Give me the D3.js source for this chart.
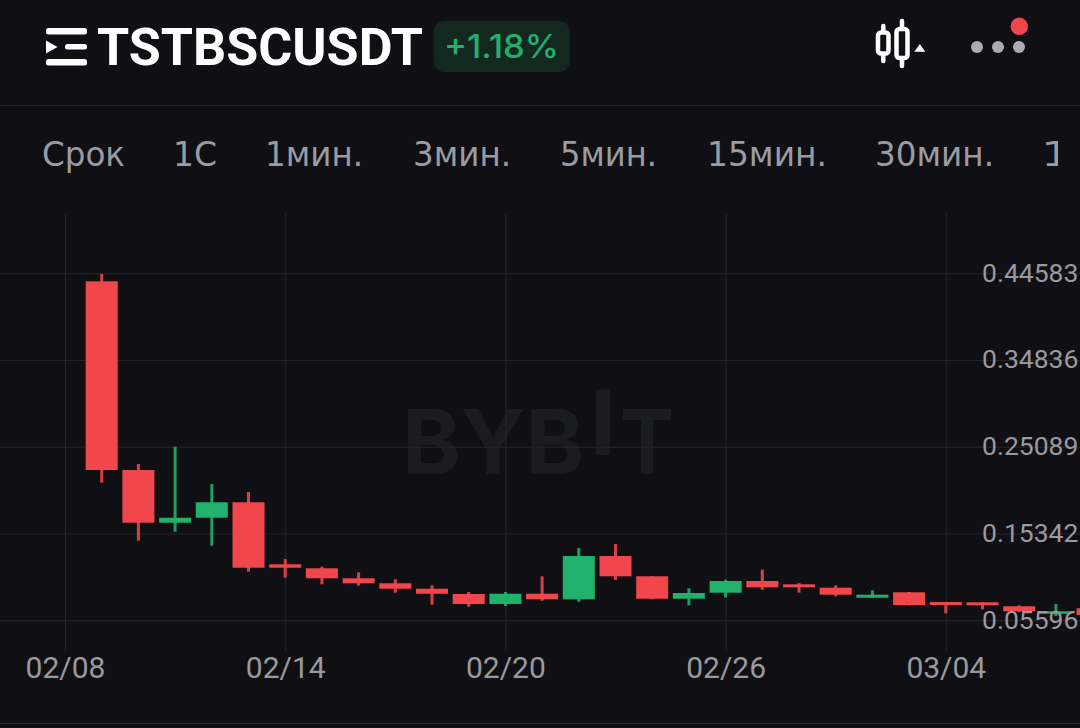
<!DOCTYPE html>
<html>
<head>
<meta charset="utf-8">
<script src="https://cdn.jsdelivr.net/npm/d3@7"></script>
<style>
html, body { margin: 0; padding: 0; background: #101014; }
svg { display: block; }
text { font-family: Inter, "Noto Sans", sans-serif; }
</style>
</head>
<body>
<svg id="chart" width="1080" height="728"></svg>
<script>
var dates = ["02/09","02/10","02/11","02/12","02/13","02/14","02/15","02/16","02/17","02/18","02/19","02/20","02/21","02/22","02/23","02/24","02/25","02/26","02/27","02/28","03/01","03/02","03/03","03/04","03/05","03/06","03/07","03/08"];
var opens = [0.43729,0.22527,0.16605,0.17167,0.18897,0.11931,0.11482,0.10358,0.09796,0.09190,0.08594,0.07470,0.08628,0.07999,0.12864,0.10583,0.08066,0.08740,0.10055,0.09684,0.09302,0.08178,0.08785,0.07695,0.07661,0.07212,0.06381,0.06987];
var closes = [0.22527,0.16605,0.17167,0.18897,0.11549,0.11549,0.10358,0.09796,0.09190,0.08628,0.07470,0.08628,0.07999,0.12864,0.10583,0.08066,0.08706,0.10055,0.09347,0.09347,0.08515,0.08515,0.07358,0.07358,0.07324,0.06650,0.06650,0.06235];
var highs = [0.44549,0.23201,0.25145,0.20954,0.20055,0.12527,0.11662,0.11032,0.10246,0.09572,0.08819,0.08819,0.10583,0.13763,0.14212,0.10583,0.09235,0.10201,0.11324,0.09830,0.09572,0.09010,0.08819,0.07695,0.07695,0.07324,0.07470,0.06987];
var lows = [0.21100,0.14583,0.15594,0.14021,0.11100,0.10426,0.09684,0.09527,0.08740,0.07392,0.07167,0.07246,0.07841,0.07729,0.10167,0.07999,0.07324,0.08223,0.09077,0.08740,0.08336,0.08178,0.07324,0.06426,0.06875,0.06572,0.06122,0.06235];
var priceTicks = [0.44583,0.34836,0.25089,0.15342,0.05596];
var dateTicks = ["02/08","02/14","02/20","02/26","03/04"];
var periods = ["Срок","1С","1мин.","3мин.","5мин.","15мин.","30мин.","1"];
var periodX = [42,173,265,413,560,707,875,1041];
var periodW = [83,44,98,98,97,120,119,30];

var bg = "#101014", red = "#f2464d", green = "#20b26c", grid = "#26272b", grey = "#9a9a9e", mark = "#1b1c20";
var svg = d3.select("#chart");

function parseDate(s) {
    var p = s.split("/");
    // 2025 so february has 28 days
    return new Date(2025, +p[0] - 1, +p[1]);
}

function isUp(i) {
    return closes[i] >= opens[i];
}

svg.append("rect").attr("width", 1080).attr("height", 728).attr("fill", bg);

// header
svg.append("line").attr("x1", 0).attr("x2", 1080).attr("y1", 105.5).attr("y2", 105.5).attr("stroke", grid);
svg.append("line").attr("x1", 0).attr("x2", 1080).attr("y1", 723.5).attr("y2", 723.5).attr("stroke", grid);

var menu = svg.append("g").attr("fill", "#fff");
menu.append("rect").attr("x", 46).attr("y", 28).attr("width", 41).attr("height", 6.5).attr("rx", 2.5);
menu.append("rect").attr("x", 65).attr("y", 44).attr("width", 22).attr("height", 5.5).attr("rx", 2.5);
menu.append("rect").attr("x", 46).attr("y", 59).attr("width", 41).attr("height", 6.5).attr("rx", 2.5);
menu.append("path").attr("d", "M46 40.5 L57.5 47 L46 53.5 Z");

svg.append("text").attr("x", 97).attr("y", 65).attr("fill", "#fff").attr("font-size", 52).attr("font-weight", 700)
    .style("font-family", "Roboto")
    .attr("textLength", 326).attr("lengthAdjust", "spacingAndGlyphs").text("TSTBSCUSDT");

svg.append("rect").attr("x", 433.5).attr("y", 21).attr("width", 136.5).attr("height", 51).attr("rx", 11).attr("fill", "#13281f");
svg.append("text").attr("x", 444).attr("y", 58).attr("fill", "#24ae6c").attr("font-size", 32).attr("font-weight", 500)
    .attr("textLength", 115).attr("lengthAdjust", "spacingAndGlyphs").text("+1.18%");

// candle icon, wicks stop at the body
var icon = svg.append("g").attr("fill", "none").attr("stroke", "#fff").attr("stroke-linecap", "round").attr("stroke-width", 4.5);
icon.append("rect").attr("x", 878).attr("y", 32.5).attr("width", 10.5).attr("height", 21).attr("rx", 3);
icon.append("path").attr("d", "M883.3 26 V32 M883.3 54 V61");
icon.append("rect").attr("x", 896.5).attr("y", 29).attr("width", 11).attr("height", 29).attr("rx", 3);
icon.append("path").attr("d", "M902 21 V28 M902 59 V66");
svg.append("path").attr("d", "M914.3 51.7 L919.8 44 L925.3 51.7 Z").attr("fill", "#fff");

// more dots
svg.selectAll("circle.more").data([977, 998, 1019]).enter().append("circle").attr("class", "more")
    .attr("cx", function(d) { return d; }).attr("cy", 47).attr("r", 6).attr("fill", "#a9acb3");
svg.append("circle").attr("cx", 1019.3).attr("cy", 26.3).attr("r", 8.7).attr("fill", red);

// period tabs
svg.selectAll("text.period").data(periods).enter().append("text").attr("class", "period")
    .attr("x", function(d, i) { return periodX[i]; })
    .attr("y", 165.5)
    .attr("fill", "#999ca2")
    .attr("font-size", 33)
    .style("font-family", "'DejaVu Sans'")
    .attr("textLength", function(d, i) { return periodW[i]; })
    .attr("lengthAdjust", "spacingAndGlyphs")
    .text(function(d) { return d; });
// the last tab is cut off at the right
svg.append("rect").attr("x", 1058).attr("y", 125).attr("width", 22).attr("height", 60).attr("fill", bg);

// scales
var y = d3.scaleLinear().domain([0.44583, 0.05596]).range([273.7, 620.7]);
var x = d3.scaleTime().domain([parseDate("02/08"), parseDate("03/04")]).range([65, 945.8]);

// watermark sits under the grid
svg.append("text").attr("x", 402).attr("y", 474).attr("fill", mark).attr("font-size", 89).attr("font-weight", 700)
    .attr("textLength", 182).attr("lengthAdjust", "spacingAndGlyphs").text("BYB");
svg.append("rect").attr("x", 596).attr("y", 389.5).attr("width", 14).attr("height", 65.5).attr("fill", mark);
svg.append("text").attr("x", 620).attr("y", 474).attr("fill", mark).attr("font-size", 89).attr("font-weight", 700)
    .attr("textLength", 54).attr("lengthAdjust", "spacingAndGlyphs").text("T");

// grid lines
var gridY = svg.append("g").call(d3.axisRight(y).tickValues(priceTicks).tickSize(1080).tickFormat("").offset(0));
gridY.select(".domain").remove();
gridY.selectAll("line").attr("stroke", grid);

var gx = svg.append("g").attr("transform", "translate(0,214)")
    .call(d3.axisBottom(x).tickValues(dateTicks.map(parseDate)).tickSize(437).tickFormat(d3.timeFormat("%m/%d")));
gx.select(".domain").remove();
gx.selectAll("line").attr("stroke", grid);
gx.selectAll("text").attr("fill", grey).attr("font-size", 30).attr("y", 464).attr("dy", 0)
    .style("font-family", "Roboto");

// candles
var candles = svg.append("g").selectAll("g").data(dates).enter().append("g");
candles.append("line")
    .attr("x1", function(d) { return x(parseDate(d)); })
    .attr("x2", function(d) { return x(parseDate(d)); })
    .attr("y1", function(d, i) { return y(highs[i]); })
    .attr("y2", function(d, i) { return y(lows[i]); })
    .attr("stroke-width", 3)
    .attr("stroke-opacity", 0.88)
    .attr("stroke", function(d, i) { return isUp(i) ? green : red; });
candles.append("rect")
    .attr("x", function(d) { return x(parseDate(d)) - 16; })
    .attr("width", 32)
    .attr("y", function(d, i) { return y(Math.max(opens[i], closes[i])); })
    .attr("height", function(d, i) { return Math.max(1, Math.abs(y(opens[i]) - y(closes[i]))); })
    .attr("fill", function(d, i) { return isUp(i) ? green : red; });

// price labels go over the candles
var gy = svg.append("g").call(d3.axisRight(y).tickValues(priceTicks).tickSize(0).tickFormat(d3.format(".5f")).offset(0));
gy.select(".domain").remove();
gy.selectAll("text").attr("fill", grey).attr("font-size", 26.5).attr("x", 982).attr("dy", 8)
    .style("font-family", "Roboto");
</script>
</body>
</html>
